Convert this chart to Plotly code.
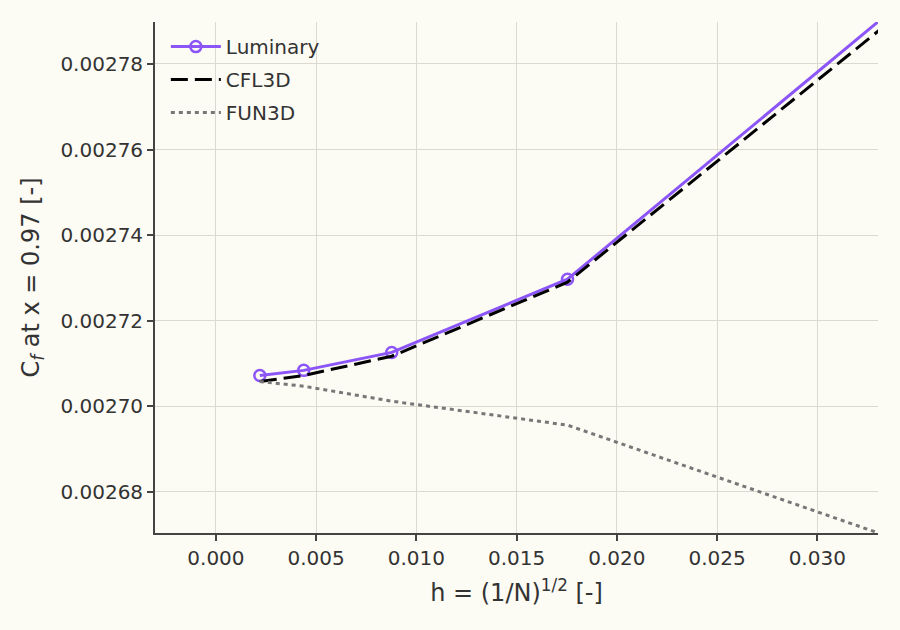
import plotly.graph_objects as go

# grid spacing h = (1/N)^(1/2)
h = [0.00219, 0.00438, 0.00877, 0.01754, 0.03508]

cf_luminary = [0.0027072, 0.0027084, 0.0027126, 0.0027297, 0.0027978]
cf_cfl3d = [0.0027058, 0.0027072, 0.0027117, 0.0027290, 0.0027954]
cf_fun3d = [0.0027058, 0.0027047, 0.0027012, 0.0026956, 0.0026671]

x_ticks = [0, 0.005, 0.01, 0.015, 0.02, 0.025, 0.03]
y_ticks = [0.00268, 0.0027, 0.00272, 0.00274, 0.00276, 0.00278]

bg = '#fcfbf4'
purple = '#8b55f7'
ink = '#333333'

fig = go.Figure()
fig.add_trace(go.Scatter(
    x=h, y=cf_luminary, name='Luminary', mode='lines+markers', legendgroup='a',
    line=dict(color=purple, width=3),
    marker=dict(symbol='circle-open', size=11, color=purple, line=dict(width=2.5)),
))
fig.add_trace(go.Scatter(
    x=h, y=cf_cfl3d, name='CFL3D', mode='lines', legendgroup='b',
    line=dict(color='black', width=3, dash='17px,7px'),
))
fig.add_trace(go.Scatter(
    x=h, y=cf_fun3d, name='FUN3D', mode='lines', legendgroup='c',
    line=dict(color='#777777', width=3, dash='4px,4px'),
))

axis_common = dict(
    showgrid=True, gridcolor='#dcd9d0', gridwidth=1.2,
    showline=True, linecolor='#444444', linewidth=1.8,
    ticks='outside', ticklen=6, tickwidth=1.8, tickcolor='#444444',
    tickfont=dict(size=20, color=ink),
    zeroline=False, mirror=False,
)

fig.update_xaxes(
    range=[-0.00304, 0.03303], tickvals=x_ticks, tickformat='.3f',
    title=dict(text='h = (1/N)<sup>1/2</sup> [-]', font=dict(size=24, color=ink), standoff=15),
    **axis_common,
)
fig.update_yaxes(
    range=[0.0026704, 0.0027898], tickvals=y_ticks, tickformat='.5f',
    title=dict(text='C<sub><i>f</i></sub> at x = 0.97 [-]', font=dict(size=24, color=ink), standoff=14),
    **axis_common,
)

fig.update_layout(
    width=900, height=630,
    paper_bgcolor=bg, plot_bgcolor=bg,
    font=dict(family='DejaVu Sans', color=ink),
    margin=dict(l=155, r=22, t=22, b=97),
    showlegend=True,
    legend=dict(x=0.015, y=0.99, xanchor='left', yanchor='top', tracegroupgap=4,
                itemwidth=50,
                bgcolor='rgba(0,0,0,0)', font=dict(size=20, color=ink)),
)

fig.write_html('out.html', config={'displayModeBar': False},
               post_script="document.body.style.margin='0';")
